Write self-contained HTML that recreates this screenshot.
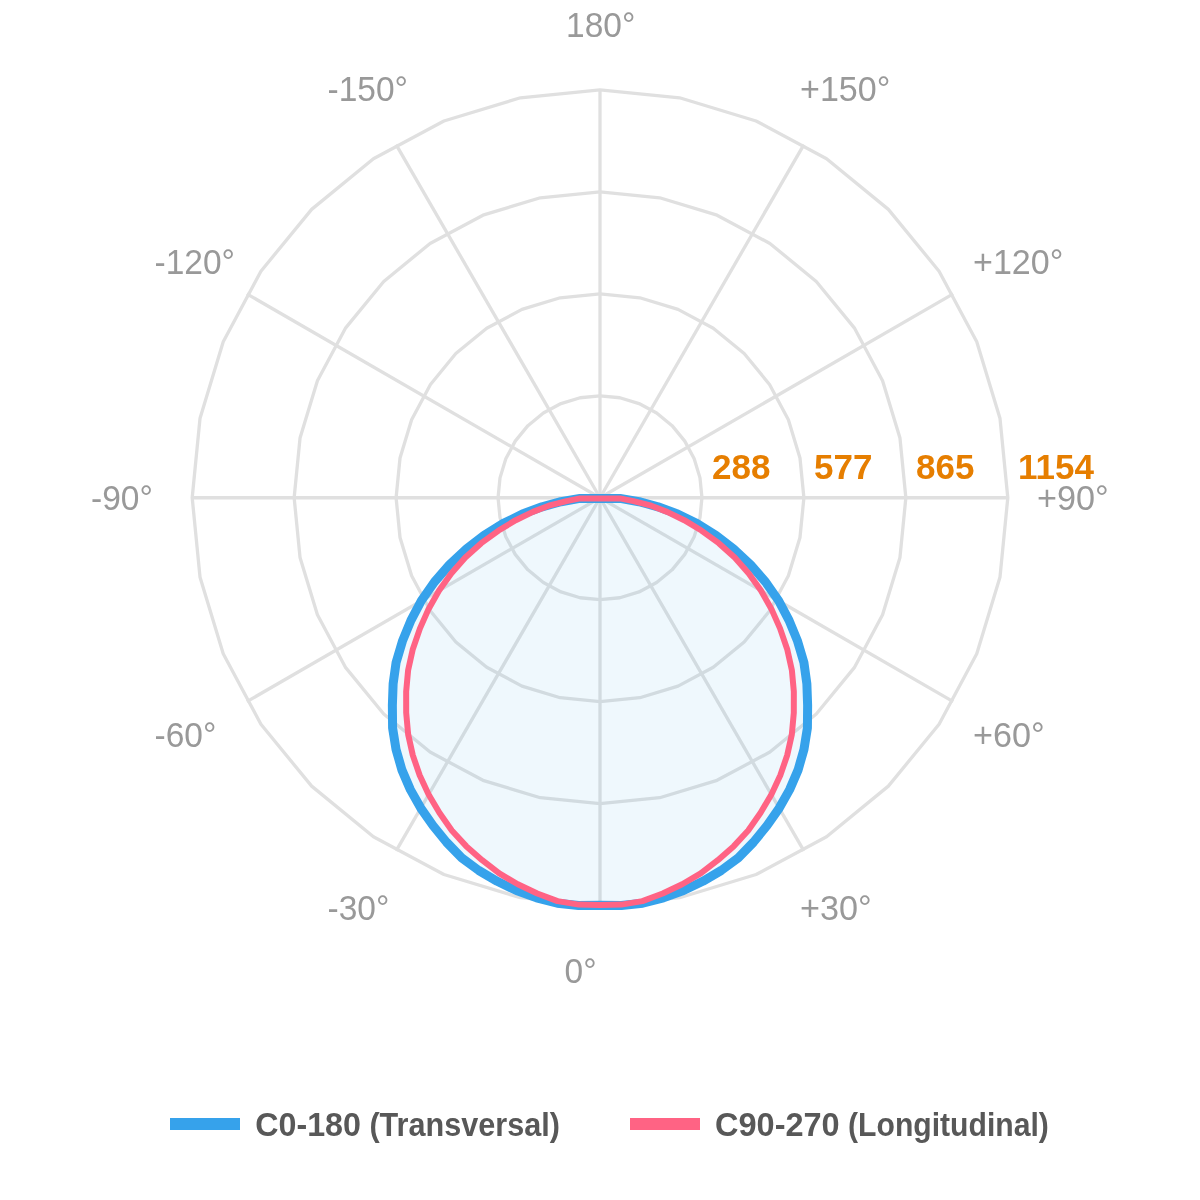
<!DOCTYPE html>
<html><head><meta charset="utf-8"><title>Polar chart</title>
<style>html,body{margin:0;padding:0;background:#fff}svg{display:block}</style></head>
<body>
<svg width="1200" height="1200" viewBox="0 0 1200 1200">
<g fill="none" stroke="#e0e0e0" stroke-width="3.3" stroke-linejoin="round" stroke-linecap="butt">
<polygon points="600.00,599.70 619.89,597.74 639.01,591.94 656.64,582.52 672.09,569.84 684.77,554.39 694.19,536.76 699.99,517.64 701.95,497.75 699.99,477.86 694.19,458.74 684.77,441.11 672.09,425.66 656.64,412.98 639.01,403.56 619.89,397.76 600.00,395.80 580.11,397.76 560.99,403.56 543.36,412.98 527.91,425.66 515.23,441.11 505.81,458.74 500.01,477.86 498.05,497.75 500.01,517.64 505.81,536.76 515.23,554.39 527.91,569.84 543.36,582.52 560.99,591.94 580.11,597.74"/>
<polygon points="600.00,701.65 639.78,697.73 678.03,686.13 713.28,667.29 744.18,641.93 769.54,611.03 788.38,575.78 799.98,537.53 803.90,497.75 799.98,457.97 788.38,419.72 769.54,384.47 744.18,353.57 713.28,328.21 678.03,309.37 639.78,297.77 600.00,293.85 560.22,297.77 521.97,309.37 486.72,328.21 455.82,353.57 430.46,384.47 411.62,419.72 400.02,457.97 396.10,497.75 400.02,537.53 411.62,575.78 430.46,611.03 455.82,641.93 486.72,667.29 521.97,686.13 560.22,697.73"/>
<polygon points="600.00,803.60 659.67,797.72 717.04,780.32 769.92,752.05 816.27,714.02 854.30,667.67 882.57,614.79 899.97,557.42 905.85,497.75 899.97,438.08 882.57,380.71 854.30,327.83 816.27,281.48 769.92,243.45 717.04,215.18 659.67,197.78 600.00,191.90 540.33,197.78 482.96,215.18 430.08,243.45 383.73,281.48 345.70,327.83 317.43,380.71 300.03,438.08 294.15,497.75 300.03,557.42 317.43,614.79 345.70,667.67 383.73,714.02 430.08,752.05 482.96,780.32 540.33,797.72"/>
<polygon points="600.00,905.55 679.56,897.71 756.06,874.51 826.56,836.82 888.36,786.11 939.07,724.31 976.76,653.81 999.96,577.31 1007.80,497.75 999.96,418.19 976.76,341.69 939.07,271.19 888.36,209.39 826.56,158.68 756.06,120.99 679.56,97.79 600.00,89.95 520.44,97.79 443.94,120.99 373.44,158.68 311.64,209.39 260.93,271.19 223.24,341.69 200.04,418.19 192.20,497.75 200.04,577.31 223.24,653.81 260.93,724.31 311.64,786.11 373.44,836.82 443.94,874.51 520.44,897.71"/>
<line x1="600.00" y1="497.75" x2="600.00" y2="905.55"/>
<line x1="600.00" y1="497.75" x2="803.90" y2="850.92"/>
<line x1="600.00" y1="497.75" x2="953.17" y2="701.65"/>
<line x1="600.00" y1="497.75" x2="1007.80" y2="497.75"/>
<line x1="600.00" y1="497.75" x2="953.17" y2="293.85"/>
<line x1="600.00" y1="497.75" x2="803.90" y2="144.58"/>
<line x1="600.00" y1="497.75" x2="600.00" y2="89.95"/>
<line x1="600.00" y1="497.75" x2="396.10" y2="144.58"/>
<line x1="600.00" y1="497.75" x2="246.83" y2="293.85"/>
<line x1="600.00" y1="497.75" x2="192.20" y2="497.75"/>
<line x1="600.00" y1="497.75" x2="246.83" y2="701.65"/>
<line x1="600.00" y1="497.75" x2="396.10" y2="850.92"/>
</g>
<path d="M580.00,498.40 L561.00,501.70 L542.03,506.78 L522.44,514.09 L502.94,523.61 L484.13,535.25 L466.59,548.81 L449.66,564.53 L434.42,581.97 L421.32,600.76 L410.95,620.37 L402.42,641.15 L396.04,662.77 L393.13,683.86 L392.37,705.23 L392.60,727.94 L396.05,749.45 L401.98,770.15 L410.36,789.63 L420.76,808.05 L432.93,825.49 L446.55,842.25 L461.72,857.84 L478.84,870.50 L497.20,881.26 L516.48,890.55 L536.60,897.89 L557.37,903.19 L578.63,905.44 L600.00,905.20 L621.37,905.44 L642.63,903.19 L663.40,897.89 L683.52,890.55 L702.80,881.26 L721.16,870.50 L738.28,857.84 L753.45,842.25 L767.07,825.49 L779.24,808.05 L789.64,789.63 L798.02,770.15 L803.95,749.45 L807.40,727.94 L807.63,705.23 L806.87,683.86 L803.96,662.77 L797.58,641.15 L789.05,620.37 L778.68,600.76 L765.58,581.97 L750.34,564.53 L733.41,548.81 L715.87,535.25 L697.06,523.61 L677.56,514.09 L657.97,506.78 L639.00,501.70 L620.00,498.40Z" fill="rgba(54,162,235,0.08)" stroke="none"/>
<path d="M580.00,498.40 L561.00,501.70 L542.03,506.78 L522.44,514.09 L502.94,523.61 L484.13,535.25 L466.59,548.81 L449.66,564.53 L434.42,581.97 L421.32,600.76 L410.95,620.37 L402.42,641.15 L396.04,662.77 L393.13,683.86 L392.37,705.23 L392.60,727.94 L396.05,749.45 L401.98,770.15 L410.36,789.63 L420.76,808.05 L432.93,825.49 L446.55,842.25 L461.72,857.84 L478.84,870.50 L497.20,881.26 L516.48,890.55 L536.60,897.89 L557.37,903.19 L578.63,905.44 L600.00,905.20 L621.37,905.44 L642.63,903.19 L663.40,897.89 L683.52,890.55 L702.80,881.26 L721.16,870.50 L738.28,857.84 L753.45,842.25 L767.07,825.49 L779.24,808.05 L789.64,789.63 L798.02,770.15 L803.95,749.45 L807.40,727.94 L807.63,705.23 L806.87,683.86 L803.96,662.77 L797.58,641.15 L789.05,620.37 L778.68,600.76 L765.58,581.97 L750.34,564.53 L733.41,548.81 L715.87,535.25 L697.06,523.61 L677.56,514.09 L657.97,506.78 L639.00,501.70 L620.00,498.40Z" fill="none" stroke="#36a2eb" stroke-width="9" stroke-linejoin="round"/>
<path d="M580.00,498.40 L566.50,501.12 L548.76,505.72 L532.89,511.86 L515.73,520.18 L498.58,530.55 L481.23,543.19 L465.30,557.57 L451.24,573.40 L439.07,590.51 L428.62,608.90 L419.98,628.39 L412.80,649.19 L408.09,670.40 L406.17,691.43 L406.19,712.85 L408.17,734.49 L412.81,755.25 L419.67,775.29 L428.61,794.46 L439.41,812.77 L451.81,830.45 L466.20,846.15 L482.18,860.22 L499.30,873.43 L517.81,884.28 L537.30,893.45 L557.59,901.10 L578.67,904.62 L600.00,904.90 L621.33,904.62 L642.41,901.10 L662.70,893.45 L682.19,884.28 L700.70,873.43 L717.82,860.22 L733.80,846.15 L748.19,830.45 L760.59,812.77 L771.39,794.46 L780.33,775.29 L787.19,755.25 L791.83,734.49 L793.81,712.85 L793.83,691.43 L791.91,670.40 L787.20,649.19 L780.02,628.39 L771.38,608.90 L760.93,590.51 L748.76,573.40 L734.70,557.57 L718.77,543.19 L701.42,530.55 L684.27,520.18 L667.11,511.86 L651.24,505.72 L633.50,501.12 L620.00,498.40Z" fill="none" stroke="#ff6384" stroke-width="6" stroke-linejoin="round"/>
<g font-family="'Liberation Sans', sans-serif" font-size="35.3" fill="#999999">
<text x="566.0" y="37.3" textLength="69.29" lengthAdjust="spacingAndGlyphs">180°</text>
<text x="327.5" y="100.6" textLength="80.45" lengthAdjust="spacingAndGlyphs">-150°</text>
<text x="800.0" y="100.6" textLength="90.29" lengthAdjust="spacingAndGlyphs">+150°</text>
<text x="154.5" y="273.6" textLength="80.45" lengthAdjust="spacingAndGlyphs">-120°</text>
<text x="973.0" y="273.6" textLength="90.29" lengthAdjust="spacingAndGlyphs">+120°</text>
<text x="91.0" y="510.2" textLength="61.82" lengthAdjust="spacingAndGlyphs">-90°</text>
<text x="1037.0" y="510.2" textLength="71.66" lengthAdjust="spacingAndGlyphs">+90°</text>
<text x="154.5" y="746.6" textLength="61.82" lengthAdjust="spacingAndGlyphs">-60°</text>
<text x="973.0" y="746.6" textLength="71.66" lengthAdjust="spacingAndGlyphs">+60°</text>
<text x="327.5" y="919.8" textLength="61.82" lengthAdjust="spacingAndGlyphs">-30°</text>
<text x="800.0" y="919.8" textLength="71.66" lengthAdjust="spacingAndGlyphs">+30°</text>
<text x="564.5" y="983.3" textLength="32.03" lengthAdjust="spacingAndGlyphs">0°</text>
</g>
<g font-family="'Liberation Sans', sans-serif" font-size="35" font-weight="bold" fill="#e67e00">
<text x="712.0" y="478.8">288</text>
<text x="814.0" y="478.8">577</text>
<text x="916.0" y="478.8">865</text>
<text x="1018.0" y="478.8">1154</text>
</g>
<rect x="170" y="1118" width="70" height="12" fill="#36a2eb"/>
<rect x="630" y="1118" width="70" height="12" fill="#ff6384"/>
<g font-family="'Liberation Sans', sans-serif" font-size="32.5" font-weight="bold" fill="#585858">
<text y="1135.7"><tspan x="255.2" textLength="105.8" lengthAdjust="spacingAndGlyphs">C0-180</tspan> <tspan x="369.4" textLength="190.5" lengthAdjust="spacingAndGlyphs">(Transversal)</tspan></text>
<text y="1135.7"><tspan x="715.0" textLength="124.7" lengthAdjust="spacingAndGlyphs">C90-270</tspan> <tspan x="848.1" textLength="200.7" lengthAdjust="spacingAndGlyphs">(Longitudinal)</tspan></text>
</g>
</svg>
</body></html>
